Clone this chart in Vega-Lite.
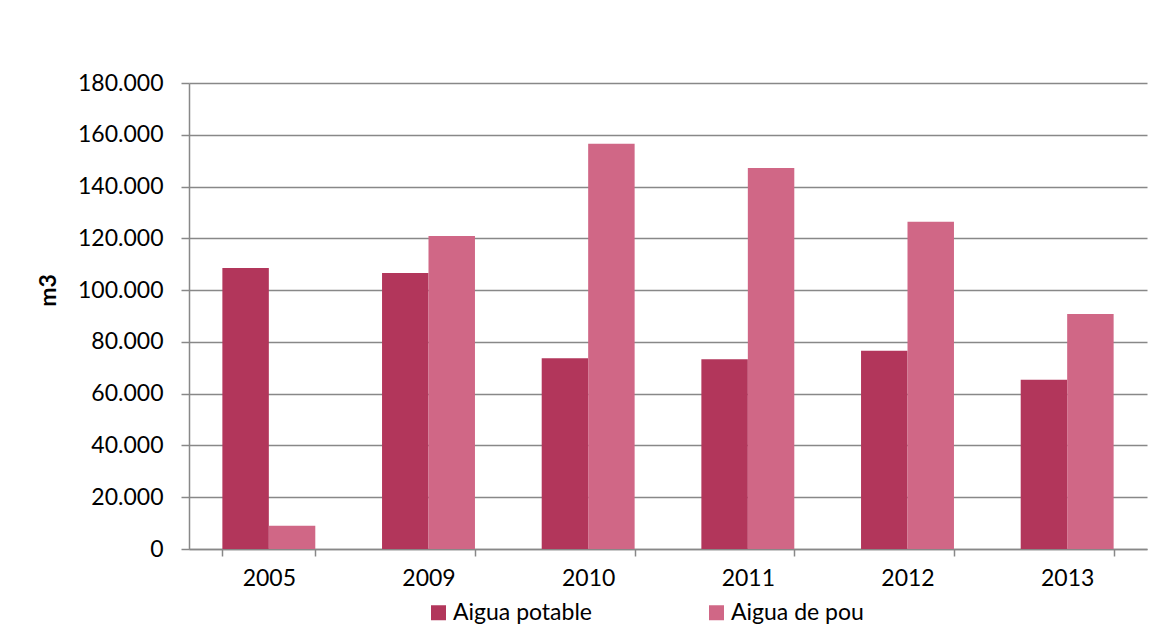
{
  "$schema": "https://vega.github.io/schema/vega-lite/v6.json",
  "autosize": "none",
  "width": 958,
  "height": 466,
  "padding": {"left": 189, "top": 83, "right": 17, "bottom": 88},
  "background": "white",
  "config": {
    "font": "Lato",
    "view": {"stroke": null},
    "axis": {"labelFont": "Lato", "titleFont": "Lato", "labelColor": "#000000", "titleColor": "#000000"}
  },
  "data": {
    "values": [
      {"year": "2005", "serie": "Aigua potable", "m3": 108500},
      {"year": "2005", "serie": "Aigua de pou", "m3": 9000},
      {"year": "2009", "serie": "Aigua potable", "m3": 106600},
      {"year": "2009", "serie": "Aigua de pou", "m3": 120900},
      {"year": "2010", "serie": "Aigua potable", "m3": 73700},
      {"year": "2010", "serie": "Aigua de pou", "m3": 156500},
      {"year": "2011", "serie": "Aigua potable", "m3": 73300},
      {"year": "2011", "serie": "Aigua de pou", "m3": 147200},
      {"year": "2012", "serie": "Aigua potable", "m3": 76600},
      {"year": "2012", "serie": "Aigua de pou", "m3": 126400},
      {"year": "2013", "serie": "Aigua potable", "m3": 65400},
      {"year": "2013", "serie": "Aigua de pou", "m3": 90800}
    ]
  },
  "mark": {"type": "bar"},
  "encoding": {
    "x": {
      "field": "year",
      "type": "nominal",
      "scale": {"paddingInner": 0.418, "paddingOuter": 0.209},
      "axis": {
        "title": null,
        "labelAngle": 0,
        "labelFontSize": 23,
        "tickBand": "extent",
        "tickSize": 7,
        "tickColor": "#888888",
        "tickWidth": 1.5,
        "domainColor": "#888888",
        "domainWidth": 1.5,
        "labelPadding": 11,
        "grid": false
      }
    },
    "xOffset": {"field": "serie", "type": "nominal", "sort": ["Aigua potable", "Aigua de pou"]},
    "y": {
      "field": "m3",
      "type": "quantitative",
      "scale": {"domain": [0, 180000], "nice": false},
      "axis": {
        "title": "m3",
        "titleFontSize": 23,
        "titleFontWeight": "bold",
        "titleAngle": -90,
        "titleX": -141,
        "titleY": 207,
        "titleAlign": "center",
        "titleBaseline": "middle",
        "values": [0, 20000, 40000, 60000, 80000, 100000, 120000, 140000, 160000, 180000],
        "labelExpr": "replace(format(datum.value, ','), ',', '.')",
        "labelFontSize": 23,
        "labelPadding": 18,
        "tickSize": 8,
        "tickColor": "#888888",
        "tickWidth": 1.5,
        "domainColor": "#888888",
        "domainWidth": 1.5,
        "grid": true,
        "gridColor": "#888888",
        "gridWidth": 1.5
      }
    },
    "color": {
      "field": "serie",
      "type": "nominal",
      "sort": ["Aigua potable", "Aigua de pou"],
      "scale": {"domain": ["Aigua potable", "Aigua de pou"], "range": ["#B2365B", "#D06786"]},
      "legend": {
        "title": null,
        "orient": "none",
        "legendX": 238,
        "legendY": 518,
        "direction": "horizontal",
        "columns": 2,
        "columnPadding": 113,
        "symbolType": "square",
        "symbolSize": 225,
        "symbolStrokeWidth": 0,
        "symbolOpacity": 1,
        "labelFontSize": 23,
        "labelFont": "Lato",
        "labelColor": "#000000",
        "labelOffset": 3,
        "labelLimit": 300
      }
    }
  }
}
